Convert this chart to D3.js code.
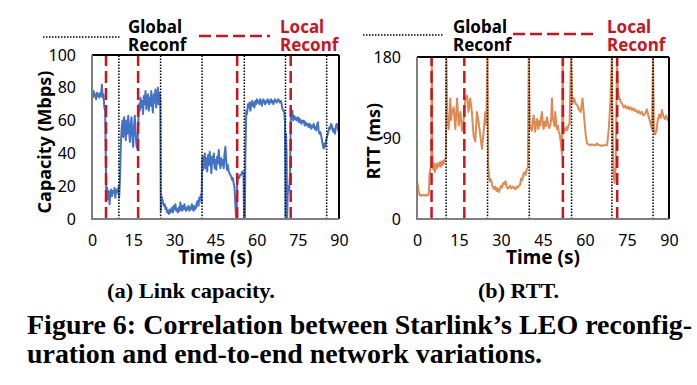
<!DOCTYPE html>
<html>
<head>
<meta charset="utf-8">
<script src="https://cdn.jsdelivr.net/npm/d3@7"></script>
<style>
  body { margin: 0; background: #fff; }
  svg { display: block; }
</style>
</head>
<body>
<div id="chart"></div>
<script>
// tick labels
const xTicks = [0, 15, 30, 45, 60, 75, 90];
const capTicks = [0, 20, 40, 60, 80, 100];
const rttTicks = [0, 90, 180];

// reconfiguration instants (s)
const globalA = [9.8, 25, 40.1, 55.5, 70.5, 85.5];
const localA = [5.1, 16.8, 52.9, 72.4];
const globalB = [10.4, 25.2, 40.1, 55.2, 69.6, 84.3];
const localB = [5.2, 16.9, 52.1, 71.5];

// (a) link capacity, [time s, Mbps]
const capacity = [
  [0,77],[0.3,74],[0.6,78],[0.9,75],[1.2,76],[1.5,73],[1.8,77],[2.1,75],[2.4,76],[2.7,74],[3.0,77],[3.3,75],[3.6,82],[3.9,74],[4.2,76],[4.5,68],[4.8,66],[5.0,40],[5.2,15],
  [5.5,19],[5.8,12],[6.1,17],[6.4,9],[6.7,16],[7.0,18],[7.3,14],[7.6,17],[7.9,16],[8.2,19],[8.5,13],[8.8,17],[9.1,18],[9.4,16],[9.7,20],[9.9,13],
  [10.2,25],[10.5,45],[10.8,55],[11.1,60],[11.4,50],[11.7,62],[12.0,57],[12.3,48],[12.6,60],[12.9,52],[13.2,63],[13.5,55],[13.8,47],[14.1,58],[14.4,62],[14.7,50],[15.0,44],[15.3,56],[15.6,63],[15.9,52],[16.2,45],[16.5,43],[16.8,55],
  [17.1,70],[17.4,66],[17.7,74],[18.0,68],[18.3,72],[18.6,64],[18.9,75],[19.2,70],[19.5,78],[19.8,67],[20.1,73],[20.4,76],[20.7,66],[21.0,74],[21.3,69],[21.6,78],[21.9,70],[22.2,65],[22.5,76],[22.8,71],[23.1,79],[23.4,68],[23.7,74],[24.0,80],[24.3,70],[24.6,77],[24.9,73],
  [25.1,5],[25.3,14],[25.6,12],[25.9,10],[26.2,8],[26.5,9],[26.8,6],[27.1,7],[27.4,4],[27.7,5],[28.0,3],[28.3,6],[28.6,4],[28.9,5],[29.2,7],[29.5,4],[29.8,8],[30.1,6],[30.4,9],[30.7,5],[31.0,6],[31.3,4],[31.6,7],[31.9,5],[32.2,10],[32.5,7],[32.8,5],[33.1,8],[33.4,6],[33.7,9],[34.0,6],[34.3,5],[34.6,7],[34.9,6],[35.2,8],[35.5,5],[35.8,7],[36.1,6],[36.4,9],[36.7,6],[37.0,5],[37.3,8],[37.6,6],[37.9,7],[38.2,10],[38.5,11],[38.8,8],[39.1,13],[39.4,12],[39.7,15],[39.9,10],
  [40.2,38],[40.5,30],[40.8,36],[41.1,40],[41.4,31],[41.7,37],[42.0,29],[42.3,39],[42.6,33],[42.9,41],[43.2,35],[43.5,28],[43.8,38],[44.1,34],[44.4,40],[44.7,31],[45.0,36],[45.3,30],[45.6,38],[45.9,34],[46.2,42],[46.5,35],[46.8,31],[47.1,37],[47.4,33],[47.7,36],[48.0,31],[48.3,40],[48.6,44],[48.9,35],[49.2,30],[49.5,33],[49.8,29],[50.1,28],[50.4,27],[50.7,26],[51.0,24],[51.3,25],[51.6,22],[51.9,20],[52.2,10],[52.5,0],
  [52.7,0],[52.9,22],[53.2,26],[53.6,25],[54.0,27],[54.4,27],[54.8,29],[55.2,28],[55.4,0],
  [55.7,0],[55.9,40],[56.2,66],[56.5,64],[56.8,70],[57.1,68],[57.4,71],[57.7,66],[58.0,70],[58.3,72],[58.6,69],[58.9,71],[59.2,68],[59.5,72],[59.8,70],[60.1,73],[60.4,71],[60.7,72],[61.0,70],[61.3,73],[61.6,72],[61.9,69],[62.2,72],[62.5,73],[62.8,71],[63.1,70],[63.4,72],[63.7,71],[64.0,73],[64.3,72],[64.6,70],[64.9,72],[65.2,73],[65.5,71],[65.8,72],[66.1,70],[66.4,72],[66.7,73],[67.0,72],[67.3,71],[67.6,72],[67.9,73],[68.2,72],[68.5,71],[68.8,72],[69.1,70],[69.4,67],[69.7,66],[70.0,66],[70.3,60],
  [70.5,0],[70.7,52],[70.9,40],[71.1,0],[71.3,15],[71.6,20],[71.9,18],[72.2,30],[72.4,60],
  [72.7,64],[73.0,66],[73.3,60],[73.6,63],[73.9,61],[74.2,62],[74.5,60],[74.8,61],[75.1,62],[75.4,59],[75.7,61],[76.0,60],[76.3,58],[76.6,60],[76.9,59],[77.2,60],[77.5,57],[77.8,59],[78.1,58],[78.4,57],[78.7,58],[79.0,56],[79.3,58],[79.6,57],[79.9,55],[80.2,57],[80.5,56],[80.8,58],[81.1,55],[81.4,56],[81.7,54],[82.0,57],[82.3,59],[82.6,54],[82.9,52],[83.2,53],[83.5,51],[83.8,48],[84.1,45],[84.4,43],[84.7,46],[85.0,44],[85.3,48],[85.6,50],[85.9,52],[86.2,54],[86.5,56],[86.8,55],[87.1,58],[87.4,57],[87.7,54],[88.0,53],[88.3,55],[88.6,52],[88.9,57],[89.2,58],[89.5,56],[89.8,54],[90,55]
];

// (b) RTT, [time s, ms]
const rtt = [
  [0,41],[0.3,38],[0.6,30],[0.9,27],[1.2,26],[1.5,27],[1.8,26],[2.1,26],[2.4,27],[2.7,26],[3.0,26],[3.3,27],[3.6,26],[3.9,27],[4.2,27],[4.5,50],[4.8,56],[5.1,60],[5.3,180],
  [5.5,70],[5.8,55],[6.1,62],[6.4,52],[6.7,60],[7.0,56],[7.3,62],[7.6,58],[7.9,60],[8.2,63],[8.5,58],[8.8,64],[9.1,60],[9.4,65],[9.7,62],[10.0,66],[10.3,68],[10.5,180],
  [10.8,110],[11.3,100],[11.9,134],[12.2,110],[12.5,119],[13.1,124],[13.7,100],[14.3,134],[14.9,104],[15.5,119],[16.1,98],[16.7,111],[17.3,134],[17.9,137],[18.4,119],[19.0,134],[19.6,119],[20.2,93],[20.8,86],[21.4,119],[22.0,108],[22.6,93],[23.2,78],[23.8,97],[24.4,119],[24.8,105],[25.1,180],
  [25.4,60],[25.7,47],[26.0,42],[26.4,44],[26.8,38],[27.2,35],[27.6,33],[28.0,36],[28.4,31],[28.8,34],[29.2,30],[29.6,33],[30.0,37],[30.4,35],[30.8,40],[31.2,39],[31.6,42],[32.0,36],[32.4,34],[32.8,35],[33.2,37],[33.6,34],[34.0,35],[34.4,36],[34.8,34],[35.2,33],[35.6,36],[36.0,35],[36.4,37],[36.8,38],[37.2,45],[37.6,43],[38.0,50],[38.4,52],[38.8,49],[39.2,55],[39.6,57],[39.9,180],
  [40.3,100],[40.5,104],[41.0,98],[41.4,110],[41.7,115],[42.2,97],[42.6,108],[42.9,111],[43.3,100],[43.7,109],[44.0,104],[44.3,112],[44.6,119],[45.0,105],[45.2,100],[45.6,108],[46.0,103],[46.4,113],[46.8,106],[47.2,101],[47.6,104],[47.9,110],[48.2,134],[48.5,112],[48.8,108],[49.1,103],[49.4,119],[49.7,106],[50.0,100],[50.3,104],[50.6,97],[50.9,95],[51.2,89],[51.5,80],[51.8,71],[52.0,180],
  [52.3,95],[52.6,100],[52.9,98],[53.3,102],[53.7,99],[54.1,104],[54.5,106],[55.0,180],
  [55.5,128],[56.1,134],[56.7,128],[57.3,126],[57.9,121],[58.5,119],[59.1,134],[59.7,113],[60.2,95],[60.7,84],[61.3,83],[61.9,82],[62.5,83],[63.1,82],[63.7,82],[64.3,84],[64.9,82],[65.5,82],[66.1,81],[66.7,82],[67.3,82],[67.9,82],[68.5,100],[69.1,132],[69.6,180],
  [69.9,90],[70.2,49],[70.6,40],[71.0,60],[71.4,180],
  [71.8,140],[72.3,134],[72.8,130],[73.3,128],[73.8,124],[74.3,126],[74.8,123],[75.3,125],[75.8,122],[76.3,124],[76.8,121],[77.3,123],[77.8,120],[78.3,121],[78.8,118],[79.3,120],[79.8,117],[80.3,119],[80.9,115],[81.5,117],[82.1,122],[82.7,114],[83.3,108],[83.9,99],[84.3,180],
  [84.6,100],[85.0,94],[85.5,98],[86.0,110],[86.5,116],[87.0,112],[87.5,121],[88.0,114],[88.5,111],[89.0,115],[89.5,110],[90,109]
];

const W = 697, H = 385;
const RED = "#c9151f", BLUE = "#4472c4", ORANGE = "#dd8a55", GREY = "#7f7f7f";
const sans = "'Noto Sans', 'Open Sans', sans-serif";
const serif = "'Liberation Serif', 'DejaVu Serif', serif";

const svg = d3.select("#chart").append("svg")
  .attr("width", W)
  .attr("height", H);

function panel(cfg) {
  const x = d3.scaleLinear().domain([0, 90]).range(cfg.xr);
  const y = d3.scaleLinear().domain([0, cfg.ymax]).range(cfg.yr);
  const g = svg.append("g");

  // series
  g.append("path")
    .datum(cfg.data)
    .attr("fill", "none")
    .attr("stroke", cfg.color)
    .attr("stroke-width", 2)
    .attr("stroke-linejoin", "round")
    .attr("d", d3.line().x(d => x(d[0])).y(d => y(d[1])));

  // global reconf = black dotted, local reconf = red dashed
  g.selectAll(".glob").data(cfg.global).enter().append("line")
    .attr("x1", d => x(d)).attr("x2", d => x(d))
    .attr("y1", y(0)).attr("y2", y(cfg.ymax))
    .attr("stroke", "#000").attr("stroke-width", 1.5)
    .attr("stroke-dasharray", "1.5,1.5");
  g.selectAll(".loc").data(cfg.local).enter().append("line")
    .attr("x1", d => x(d)).attr("x2", d => x(d))
    .attr("y1", y(0)).attr("y2", y(cfg.ymax))
    .attr("stroke", RED).attr("stroke-width", 2.5)
    .attr("stroke-dasharray", "12,5");

  // axes (labels only)
  const ax = g.append("g")
    .attr("transform", `translate(0,${cfg.yr[0]})`)
    .call(d3.axisBottom(x).tickValues(xTicks).tickSize(0).tickPadding(16));
  const ay = g.append("g")
    .attr("transform", `translate(${cfg.xr[0]},0)`)
    .call(d3.axisLeft(y).tickValues(cfg.yticks).tickSize(0).tickPadding(16));
  [ax, ay].forEach(a => {
    a.select(".domain").remove();
    a.selectAll("text")
      .attr("fill", "#000")
      .style("font-family", sans)
      .style("font-size", "16px");
  });

  // frame
  g.append("line").attr("x1", cfg.xr[0]).attr("x2", cfg.xr[1]).attr("y1", cfg.yr[1]).attr("y2", cfg.yr[1])
    .attr("stroke", "#000").attr("stroke-width", 2);
  g.append("line").attr("x1", cfg.xr[1]).attr("x2", cfg.xr[1]).attr("y1", cfg.yr[0]).attr("y2", cfg.yr[1])
    .attr("stroke", "#000").attr("stroke-width", 2);
  g.append("line").attr("x1", cfg.xr[0]).attr("x2", cfg.xr[0]).attr("y1", cfg.yr[0] + 1).attr("y2", cfg.yr[1])
    .attr("stroke", GREY).attr("stroke-width", 2);
  g.append("line").attr("x1", cfg.xr[0]).attr("x2", cfg.xr[1]).attr("y1", cfg.yr[0]).attr("y2", cfg.yr[0])
    .attr("stroke", GREY).attr("stroke-width", 2);

  // axis titles
  g.append("text")
    .attr("x", (cfg.xr[0] + cfg.xr[1]) / 2).attr("y", 264)
    .attr("text-anchor", "middle")
    .style("font-family", sans).style("font-size", "19px").style("font-weight", "bold")
    .text("Time (s)");
  g.append("text")
    .attr("transform", `translate(${cfg.ytitle.x},${cfg.ytitle.y}) rotate(-90)`)
    .attr("text-anchor", "middle")
    .style("font-family", sans).style("font-size", "18px").style("font-weight", "bold")
    .text(cfg.ytitle.text);

  // legend
  const L = cfg.legend;
  g.append("line").attr("x1", L.dot[0]).attr("x2", L.dot[1]).attr("y1", L.dot[2]).attr("y2", L.dot[2])
    .attr("stroke", "#000").attr("stroke-width", 1.5).attr("stroke-dasharray", "1.5,1.5");
  g.append("line").attr("x1", L.dash[0]).attr("x2", L.dash[1]).attr("y1", L.dash[2]).attr("y2", L.dash[2])
    .attr("stroke", RED).attr("stroke-width", 2.5).attr("stroke-dasharray", "12,5");
  [["Global", L.gx, 33, "#000"], ["Reconf", L.gx, 51, "#000"],
   ["Local", L.lx, 33, RED], ["Reconf", L.lx, 51, RED]].forEach(([t, tx, ty, c]) => {
    g.append("text").attr("x", tx).attr("y", ty)
      .attr("fill", c)
      .style("font-family", sans).style("font-size", "17px").style("font-weight", "bold")
      .text(t);
  });
}

panel({
  data: capacity, color: BLUE, ymax: 100, yticks: capTicks,
  xr: [92, 339], yr: [219, 55],
  global: globalA, local: localA,
  ytitle: { x: 51, y: 142, text: "Capacity (Mbps)" },
  legend: { dot: [43, 120, 37], dash: [199, 270, 36], gx: 128, lx: 280 }
});

panel({
  data: rtt, color: ORANGE, ymax: 180, yticks: rttTicks,
  xr: [417, 669], yr: [219, 57],
  global: globalB, local: localB,
  ytitle: { x: 380, y: 141, text: "RTT (ms)" },
  legend: { dot: [363, 443, 35], dash: [513, 593, 34], gx: 453, lx: 607 }
});

// captions
const captions = [
  { text: "(a) Link capacity.", x: 107, y: 298, len: 168, size: 22 },
  { text: "(b) RTT.", x: 478, y: 298, len: 81, size: 22 },
  { text: "Figure 6: Correlation between Starlink\u2019s LEO reconfig-", x: 27, y: 334, len: 665, size: 28 },
  { text: "uration and end-to-end network variations.", x: 27, y: 363, len: 515, size: 28 }
];
captions.forEach(c => {
  svg.append("text")
    .attr("x", c.x).attr("y", c.y)
    .attr("textLength", c.len).attr("lengthAdjust", "spacingAndGlyphs")
    .style("font-family", serif).style("font-size", c.size + "px").style("font-weight", "bold")
    .text(c.text);
});
</script>
</body>
</html>
